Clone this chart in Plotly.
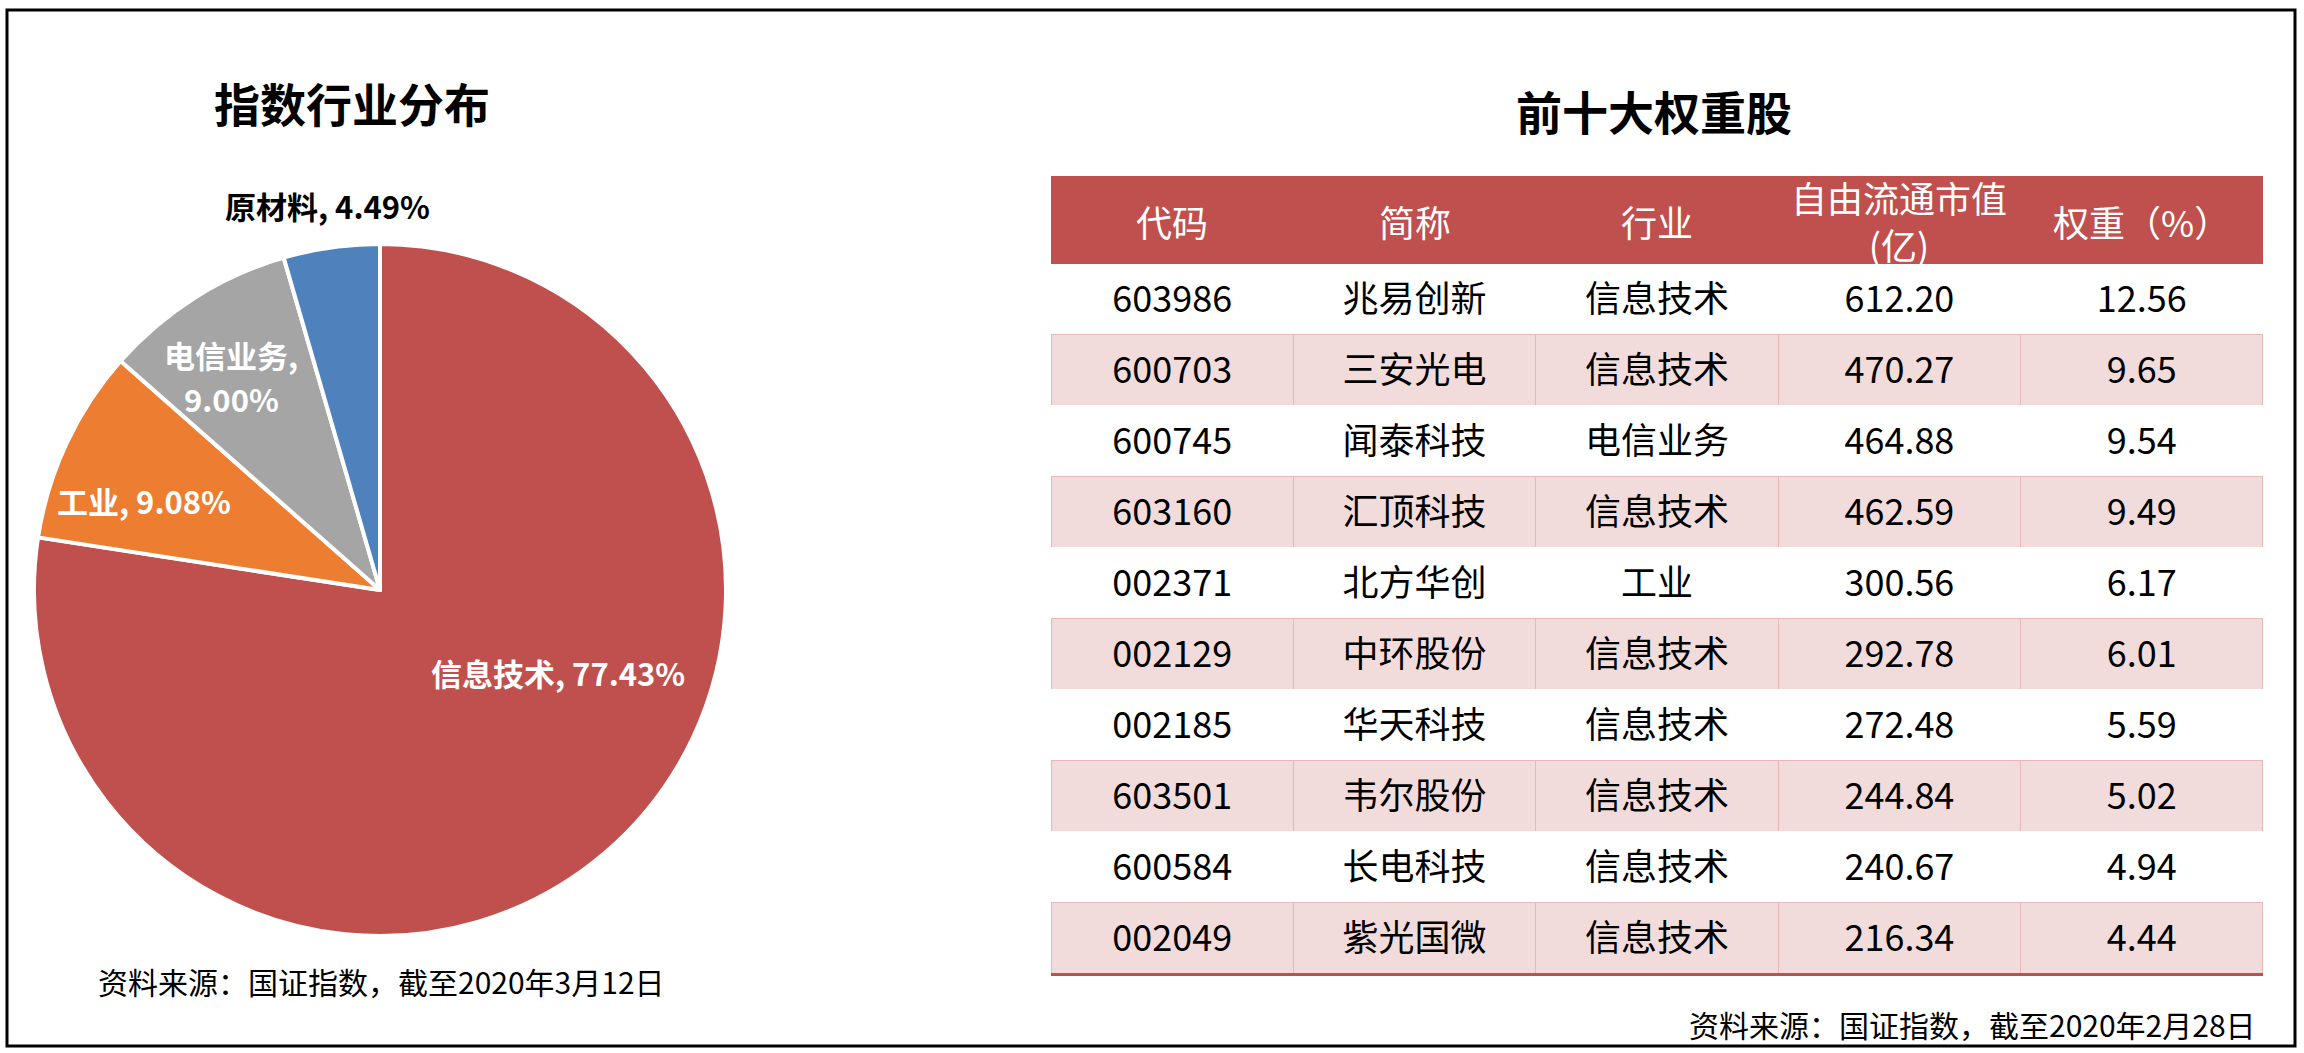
import plotly.graph_objects as go

W, H = 2304, 1053
FONT = "Noto Sans CJK SC"

# ---------------- data ----------------
industries = ["信息技术", "工业", "电信业务", "原材料"]
industry_pct = [77.43, 9.08, 9.00, 4.49]

header_labels = ["代码", "简称", "行业", "自由流通市值<br>(亿)", "权重（%）"]
codes = ["603986", "600703", "600745", "603160", "002371",
         "002129", "002185", "603501", "600584", "002049"]
names = ["兆易创新", "三安光电", "闻泰科技", "汇顶科技", "北方华创",
         "中环股份", "华天科技", "韦尔股份", "长电科技", "紫光国微"]
sectors = ["信息技术", "信息技术", "电信业务", "信息技术", "工业",
           "信息技术", "信息技术", "信息技术", "信息技术", "信息技术"]
float_cap = [612.20, 470.27, 464.88, 462.59, 300.56,
             292.78, 272.48, 244.84, 240.67, 216.34]
weights = [12.56, 9.65, 9.54, 9.49, 6.17, 6.01, 5.59, 5.02, 4.94, 4.44]

left_title = "指数行业分布"
right_title = "前十大权重股"
left_source = "资料来源：国证指数，截至2020年3月12日"
right_source = "资料来源：国证指数，截至2020年2月28日"

# ---------------- styles / layout ----------------
slice_colors = ["#C0504D", "#ED7D31", "#A5A5A5", "#4F81BD"]
label_colors = ["white", "white", "white", "black"]
label_break = [False, False, True, False]
label_pos = [(558, 672), (144, 500), (231, 376), (327, 205)]
LABEL_LINE_GAP = 44

RED = "#C0504D"
PINK = "#F2DCDB"
PINK_LINE = "#E6B9B8"


def px(x):
    return x / W


def py(y):
    return 1 - y / H


fig = go.Figure()

# pie
fig.add_trace(go.Pie(
    labels=industries, values=industry_pct, sort=False, direction="clockwise",
    rotation=0, textinfo="none", hoverinfo="label+percent",
    marker=dict(colors=slice_colors, line=dict(color="white", width=4)),
    domain=dict(x=[px(34), px(726)], y=[py(936), py(244)]),
    showlegend=False,
))

# table geometry
TX0, TX1 = 1051, 2263
TTOP = 176
HDR_H = 87
ROW_H = 71
n_rows = len(codes)
n_cols = len(header_labels)

cols = [codes, names, sectors,
        [f"{v:.2f}" for v in float_cap],
        [f"{v:.2f}" for v in weights]]

fills = [[("white" if r % 2 == 0 else PINK) for r in range(n_rows)] for _ in range(n_cols)]
lines = [[("white" if r % 2 == 0 else PINK_LINE) for r in range(n_rows)] for _ in range(n_cols)]

table_bottom = TTOP + HDR_H + ROW_H * n_rows

# background table (fills and grid only)
fig.add_trace(go.Table(
    domain=dict(x=[px(TX0), px(TX1)], y=[py(table_bottom + 20), py(TTOP)]),
    header=dict(values=[""] * n_cols, fill_color=RED, line=dict(color=RED, width=1),
                height=HDR_H, font=dict(size=36, color="white", family=FONT)),
    cells=dict(values=[[""] * len(c) for c in cols], fill=dict(color=fills),
               line=dict(color=lines, width=1),
               height=ROW_H, align="center",
               font=dict(size=36, color="black", family=FONT)),
))

# text layer table (shifted so text is vertically centred in each row)
SHIFT = 14
fig.add_trace(go.Table(
    domain=dict(x=[px(TX0), px(TX1)], y=[py(table_bottom + 20 + SHIFT), py(TTOP + SHIFT)]),
    header=dict(values=[""] * n_cols, fill_color="rgba(0,0,0,0)",
                line=dict(color="rgba(0,0,0,0)", width=0), height=HDR_H,
                font=dict(size=36, color="white", family=FONT)),
    cells=dict(values=cols, fill=dict(color="rgba(0,0,0,0)"),
               line=dict(color="rgba(0,0,0,0)", width=0),
               height=ROW_H, align="center",
               font=dict(size=36, color="black", family=FONT)),
))

annotations = []
# header labels
colw = (TX1 - TX0) / n_cols
for i, lab in enumerate(header_labels):
    annotations.append(dict(
        x=px(TX0 + (i + 0.5) * colw), y=py(TTOP + HDR_H / 2 + 1), xref="paper", yref="paper",
        text=lab, showarrow=False, xanchor="center", yanchor="middle",
        font=dict(family=FONT, size=36, color="white")))

# pie labels
for i, name in enumerate(industries):
    lx, ly = label_pos[i]
    lab_font = dict(family=FONT, size=31, color=label_colors[i], weight="bold")
    if label_break[i]:
        parts = [f"{name},", f"{industry_pct[i]:.2f}%"]
        for k, part in enumerate(parts):
            annotations.append(dict(
                x=px(lx), y=py(ly + (k - 0.5) * LABEL_LINE_GAP), xref="paper", yref="paper",
                text=part, showarrow=False, xanchor="center", yanchor="middle", font=lab_font))
    else:
        annotations.append(dict(
            x=px(lx), y=py(ly), xref="paper", yref="paper",
            text=f"{name}, {industry_pct[i]:.2f}%", showarrow=False,
            xanchor="center", yanchor="middle", font=lab_font))

# titles
annotations.append(dict(x=px(352), y=py(102), xref="paper", yref="paper", text=left_title,
                        showarrow=False, xanchor="center", yanchor="middle",
                        font=dict(family=FONT, size=46, color="black", weight="bold")))
annotations.append(dict(x=px(1654), y=py(110), xref="paper", yref="paper", text=right_title,
                        showarrow=False, xanchor="center", yanchor="middle",
                        font=dict(family=FONT, size=46, color="black", weight="bold")))
# sources
annotations.append(dict(x=px(381), y=py(981), xref="paper", yref="paper", text=left_source,
                        showarrow=False, xanchor="center", yanchor="middle",
                        font=dict(family=FONT, size=30, color="black")))
annotations.append(dict(x=px(2258), y=py(1024), xref="paper", yref="paper", text=right_source,
                        showarrow=False, xanchor="right", yanchor="middle",
                        font=dict(family=FONT, size=30, color="black")))

shapes = [
    # outer frame
    dict(type="rect", xref="paper", yref="paper", x0=px(7), x1=px(2295), y0=py(1046), y1=py(10),
         line=dict(color="black", width=3), fillcolor="rgba(0,0,0,0)"),
    # table bottom rule
    dict(type="line", xref="paper", yref="paper", x0=px(TX0), x1=px(TX1),
         y0=py(table_bottom + 1.5), y1=py(table_bottom + 1.5), line=dict(color=RED, width=3)),
]

fig.update_layout(
    width=W, height=H, margin=dict(l=0, r=0, t=0, b=0),
    paper_bgcolor="white", plot_bgcolor="white",
    font=dict(family=FONT), showlegend=False,
    annotations=annotations, shapes=shapes,
)

fig.write_html("out.html", config={"displayModeBar": False},
               post_script="document.body.style.margin='0';document.body.style.overflow='hidden';")
